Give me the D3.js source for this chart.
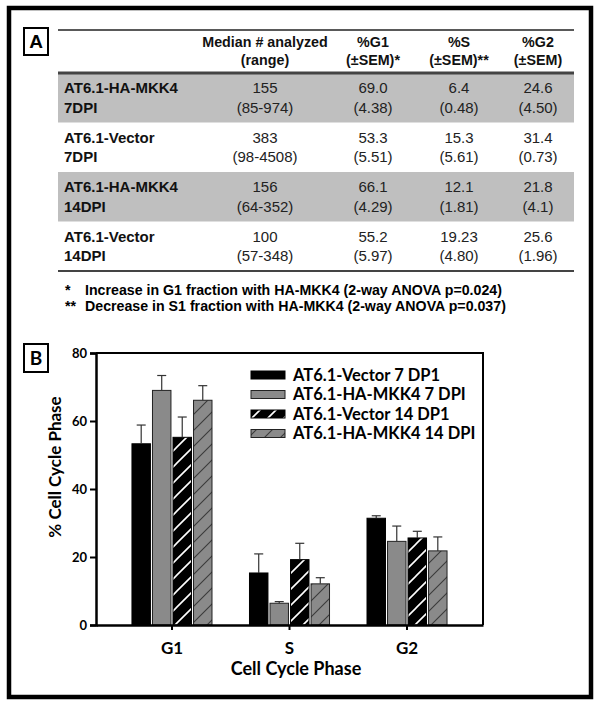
<!DOCTYPE html>
<html>
<head>
<meta charset="utf-8">
<script src="https://cdn.jsdelivr.net/npm/d3@7/dist/d3.min.js"></script>
<style>
  html, body { margin: 0; padding: 0; background: #fff; }
  svg { display: block; }
</style>
</head>
<body>
<div id="chart"></div>
<script>
// ---------- Panel A table data ----------
const headerLine1 = ["Median # analyzed", "%G1", "%S", "%G2"];
const headerLine2 = ["(range)", "(±SEM)*", "(±SEM)**", "(±SEM)"];
const rowNames = ["AT6.1-HA-MKK4", "AT6.1-Vector", "AT6.1-HA-MKK4", "AT6.1-Vector"];
const rowDays = ["7DPI", "7DPI", "14DPI", "14DPI"];
const medianN = ["155", "383", "156", "100"];
const medianRange = ["(85-974)", "(98-4508)", "(64-352)", "(57-348)"];
const pctG1 = ["69.0", "53.3", "66.1", "55.2"];
const semG1 = ["(4.38)", "(5.51)", "(4.29)", "(5.97)"];
const pctS = ["6.4", "15.3", "12.1", "19.23"];
const semS = ["(0.48)", "(5.61)", "(1.81)", "(4.80)"];
const pctG2 = ["24.6", "31.4", "21.8", "25.6"];
const semG2 = ["(4.50)", "(0.73)", "(4.1)", "(1.96)"];
const footMarks = ["*", "**"];
const footTexts = [
  "Increase in G1 fraction with HA-MKK4  (2-way ANOVA p=0.024)",
  "Decrease in S1 fraction with HA-MKK4 (2-way ANOVA p=0.037)"
];

// ---------- Panel B chart data ----------
const phases = ["G1", "S", "G2"];
const seriesNames = ["AT6.1-Vector 7 DP1", "AT6.1-HA-MKK4 7 DPI", "AT6.1-Vector 14 DP1", "AT6.1-HA-MKK4 14 DPI"];
const vector7 = [53.3, 15.3, 31.4];
const vector7Sem = [5.51, 5.61, 0.73];
const mkk7 = [69.0, 6.4, 24.6];
const mkk7Sem = [4.38, 0.48, 4.50];
const vector14 = [55.2, 19.23, 25.6];
const vector14Sem = [5.97, 4.80, 1.96];
const mkk14 = [66.1, 12.1, 21.8];
const mkk14Sem = [4.29, 1.81, 4.1];
const yTicks = [0, 20, 40, 60, 80];
const yTitle = "% Cell Cycle Phase";
const xTitle = "Cell Cycle Phase";

const W = 601, H = 707;
const svg = d3.select("#chart").append("svg").attr("width", W).attr("height", H);

const defs = svg.append("defs");
function hatch(id, bg, lineColor, lw) {
  const p = defs.append("pattern").attr("id", id)
    .attr("patternUnits", "userSpaceOnUse").attr("width", 16).attr("height", 16);
  p.append("rect").attr("width", 16).attr("height", 16).attr("fill", bg);
  p.append("path").attr("d", "M-4,4 L4,-4 M0,16 L16,0 M12,20 L20,12")
    .attr("stroke", lineColor).attr("stroke-width", lw);
}
hatch("hatchBlack", "#000", "#fff", 1.6);
hatch("hatchGray", "#8a8a8a", "#3a3a3a", 1.1);

// outer frame
svg.append("rect").attr("x", 9).attr("y", 8).attr("width", 582).attr("height", 689)
  .attr("fill", "none").attr("stroke", "#000").attr("stroke-width", 4.5);

// ----- Panel A -----
const tFont = "'Liberation Sans', Arial, sans-serif";
function labelBox(x, y, w, h, txt, font, size) {
  svg.append("rect").attr("x", x).attr("y", y).attr("width", w).attr("height", h)
    .attr("fill", "#fff").attr("stroke", "#000").attr("stroke-width", 2);
  svg.append("text").attr("x", x + w / 2).attr("y", y + h / 2 + size * 0.36)
    .attr("text-anchor", "middle").attr("font-family", font).attr("font-weight", "bold")
    .attr("font-size", size).text(txt);
}
labelBox(24, 28, 24, 27, "A", tFont, 19);

const tx0 = 58, tx1 = 574;
const tableTop = 30, headBottom = 73, rowH = 49.5;
const colX = [265, 373, 459, 538];
const rowTops = d3.range(4).map(i => headBottom + i * rowH);

// gray rows
svg.selectAll("rect.rowbg").data(rowTops.filter((d, i) => i % 2 === 0)).enter()
  .append("rect").attr("class", "rowbg")
  .attr("x", tx0).attr("y", d => d).attr("width", tx1 - tx0).attr("height", rowH)
  .attr("fill", "#bfbfbf");

svg.append("line").attr("x1", tx0).attr("x2", tx1).attr("y1", tableTop).attr("y2", tableTop)
  .attr("stroke", "#222").attr("stroke-width", 1.5);
svg.append("line").attr("x1", tx0).attr("x2", tx1).attr("y1", headBottom).attr("y2", headBottom)
  .attr("stroke", "#444").attr("stroke-width", 3);
const tableBottom = headBottom + 4 * rowH;
svg.append("line").attr("x1", tx0).attr("x2", tx1).attr("y1", tableBottom).attr("y2", tableBottom)
  .attr("stroke", "#444").attr("stroke-width", 2);

const hSize = 14.3, tSize = 15;
headerLine1.forEach((h, i) => {
  svg.append("text").attr("x", colX[i]).attr("y", 47).attr("text-anchor", "middle")
    .attr("font-family", tFont).attr("font-weight", "bold").attr("font-size", hSize)
    .attr("fill", "#111").text(h);
  svg.append("text").attr("x", colX[i]).attr("y", 65).attr("text-anchor", "middle")
    .attr("font-family", tFont).attr("font-weight", "bold").attr("font-size", hSize)
    .attr("fill", "#111").text(headerLine2[i]);
});

const cols1 = [medianN, pctG1, pctS, pctG2];
const cols2 = [medianRange, semG1, semS, semG2];
rowTops.forEach((top, r) => {
  svg.append("text").attr("x", 64).attr("y", top + 20).attr("font-family", tFont)
    .attr("font-weight", "bold").attr("font-size", tSize).attr("fill", "#111").text(rowNames[r]);
  svg.append("text").attr("x", 64).attr("y", top + 39.5).attr("font-family", tFont)
    .attr("font-weight", "bold").attr("font-size", tSize).attr("fill", "#111").text(rowDays[r]);
  cols1.forEach((c, i) => {
    svg.append("text").attr("x", colX[i]).attr("y", top + 20).attr("text-anchor", "middle")
      .attr("font-family", tFont).attr("font-size", tSize).attr("fill", "#222").text(c[r]);
    svg.append("text").attr("x", colX[i]).attr("y", top + 39.5).attr("text-anchor", "middle")
      .attr("font-family", tFont).attr("font-size", tSize).attr("fill", "#222").text(cols2[i][r]);
  });
});

footTexts.forEach((t, i) => {
  const yb = 295 + i * 16;
  svg.append("text").attr("x", 65).attr("y", yb).attr("font-family", tFont)
    .attr("font-weight", "bold").attr("font-size", 14.2).text(footMarks[i]);
  svg.append("text").attr("x", 85).attr("y", yb).attr("font-family", tFont)
    .attr("font-weight", "bold").attr("font-size", 14.2).text(t);
});

// ----- Panel B -----
const cFont = "Lato, 'Open Sans', sans-serif";
labelBox(24, 344, 24, 28, "B", cFont, 19);

const plot = { left: 96, right: 483, top: 353, bottom: 625 };
const y = d3.scaleLinear().domain([0, 80]).range([plot.bottom, plot.top]);
const x0 = d3.scaleBand().domain(phases).range([plot.left, plot.right])
  .paddingInner(0.319).paddingOuter(0.306);
const x1 = d3.scaleBand().domain(seriesNames).range([0, x0.bandwidth()]).paddingInner(0.1);

const values = [vector7, mkk7, vector14, mkk14];
const sems = [vector7Sem, mkk7Sem, vector14Sem, mkk14Sem];
const fills = ["#000", "#8a8a8a", "url(#hatchBlack)", "url(#hatchGray)"];
const strokes = ["#000", "#222", "#000", "#222"];

const data = [];
phases.forEach((p, pi) => seriesNames.forEach((s, si) => {
  data.push({ phase: p, series: s, si, v: values[si][pi], e: sems[si][pi] });
}));

const g = svg.append("g");
// bars
g.selectAll("rect.bar").data(data).enter().append("rect").attr("class", "bar")
  .attr("x", d => x0(d.phase) + x1(d.series))
  .attr("y", d => y(d.v))
  .attr("width", x1.bandwidth())
  .attr("height", d => y(0) - y(d.v))
  .attr("fill", d => fills[d.si])
  .attr("stroke", d => strokes[d.si]).attr("stroke-width", 1);

// error bars
const cx = d => x0(d.phase) + x1(d.series) + x1.bandwidth() / 2;
g.selectAll("line.err").data(data).enter().append("line").attr("class", "err")
  .attr("x1", cx).attr("x2", cx)
  .attr("y1", d => y(d.v)).attr("y2", d => y(d.v + d.e))
  .attr("stroke", "#333").attr("stroke-width", 1.2);
g.selectAll("line.cap").data(data).enter().append("line").attr("class", "cap")
  .attr("x1", d => cx(d) - 4.5).attr("x2", d => cx(d) + 4.5)
  .attr("y1", d => y(d.v + d.e)).attr("y2", d => y(d.v + d.e))
  .attr("stroke", "#333").attr("stroke-width", 1.2);

// frame top & right
svg.append("path")
  .attr("d", `M${plot.left},${plot.top}H${plot.right}V${plot.bottom}`)
  .attr("fill", "none").attr("stroke", "#000").attr("stroke-width", 2);

// y axis
const yAxis = svg.append("g").attr("transform", `translate(${plot.left},0)`)
  .call(d3.axisLeft(y).tickValues(yTicks).tickSize(6).tickPadding(3).tickFormat(d3.format("d")));
yAxis.select(".domain").attr("stroke-width", 2.5);
yAxis.selectAll(".tick line").attr("stroke-width", 2);
yAxis.selectAll("text").attr("font-family", cFont).attr("font-weight", "bold")
  .attr("font-size", 13).attr("fill", "#000");

// x axis
const xAxis = svg.append("g").attr("transform", `translate(0,${plot.bottom})`)
  .call(d3.axisBottom(x0).tickSize(5).tickSizeOuter(0).tickPadding(12));
xAxis.select(".domain").attr("stroke-width", 2.5);
xAxis.selectAll(".tick line").attr("stroke-width", 2);
xAxis.selectAll("text").attr("font-family", cFont).attr("font-weight", "bold")
  .attr("font-size", 17).attr("fill", "#000");

// axis titles
svg.append("text").attr("x", 296).attr("y", 675)
  .attr("text-anchor", "middle").attr("font-family", cFont).attr("font-weight", "bold")
  .attr("font-size", 18).text(xTitle);
svg.append("text").attr("transform", `translate(61,467) rotate(-90)`)
  .attr("text-anchor", "middle").attr("font-family", cFont).attr("font-weight", "bold")
  .attr("font-size", 17).text(yTitle);

// legend
const leg = svg.append("g").attr("transform", "translate(251,371)");
seriesNames.forEach((s, i) => {
  leg.append("rect").attr("x", 0).attr("y", i * 19.5).attr("width", 34).attr("height", 8)
    .attr("fill", fills[i]).attr("stroke", strokes[i]).attr("stroke-width", 1);
  leg.append("text").attr("x", 42).attr("y", i * 19.5 + 9.5).attr("font-family", cFont)
    .attr("font-weight", "bold").attr("font-size", 16.5).text(s);
});
</script>
</body>
</html>
